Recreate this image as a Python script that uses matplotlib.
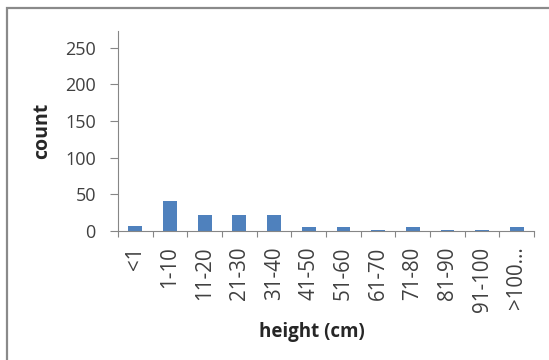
import matplotlib
matplotlib.use("Agg")
import matplotlib.pyplot as plt
import numpy as np
from matplotlib.patches import Rectangle

# height classes and plant counts
heights = ["<1", "1-10", "11-20", "21-30", "31-40", "41-50", "51-60",
           "61-70", "71-80", "81-90", "91-100", ">100..."]
counts = [7, 41, 22, 22, 22, 5, 5, 2, 5, 1, 1, 6]
yticks = [0, 50, 100, 150, 200, 250]

plt.rcParams['font.family'] = ['Open Sans', 'DejaVu Sans']

fig = plt.figure(figsize=(5.49, 3.6), dpi=100)
ax = fig.add_axes([0.215, 0.358, 0.758, 0.556])

# outer chart frame
fig.patches.append(Rectangle((7 / 549, -0.05), 1.2, 1 - 8 / 360 + 0.05,
                             transform=fig.transFigure, fill=False,
                             edgecolor="#8a8a8a", lw=1.6))

x = np.arange(len(heights))
ax.bar(x, counts, width=0.4, color="#4F81BD")

ax.set_xlim(-0.5, len(heights) - 0.5)
ax.set_ylim(0, 273)
ax.set_yticks(yticks)
ax.set_yticklabels([str(v) for v in yticks], fontsize=13, color="#404040")

# category labels in the middle, ticks on the boundaries
ax.set_xticks(x)
ax.set_xticklabels(heights, rotation=90, fontsize=14.8, color="#404040")
ax.tick_params(axis="x", length=0, pad=11)
ax.set_xticks(np.arange(-0.5, len(heights)), minor=True)
ax.tick_params(axis="x", which="minor", length=4, color="#868686", width=0.8)
ax.tick_params(axis="y", length=6, color="#868686", width=0.8, pad=10)

for s in ["top", "right"]:
    ax.spines[s].set_visible(False)
for s in ["left", "bottom"]:
    ax.spines[s].set_color("#868686")
    ax.spines[s].set_linewidth(0.8)

ax.set_ylabel("count", fontsize=14, fontweight="bold", color="#262626")
ax.yaxis.set_label_coords(-0.159, 0.5)
ax.set_xlabel("height (cm)", fontsize=13.5, fontweight="bold", color="#262626")
ax.xaxis.set_label_coords(0.466, -0.455)

fig.savefig("out.png", dpi=100)
